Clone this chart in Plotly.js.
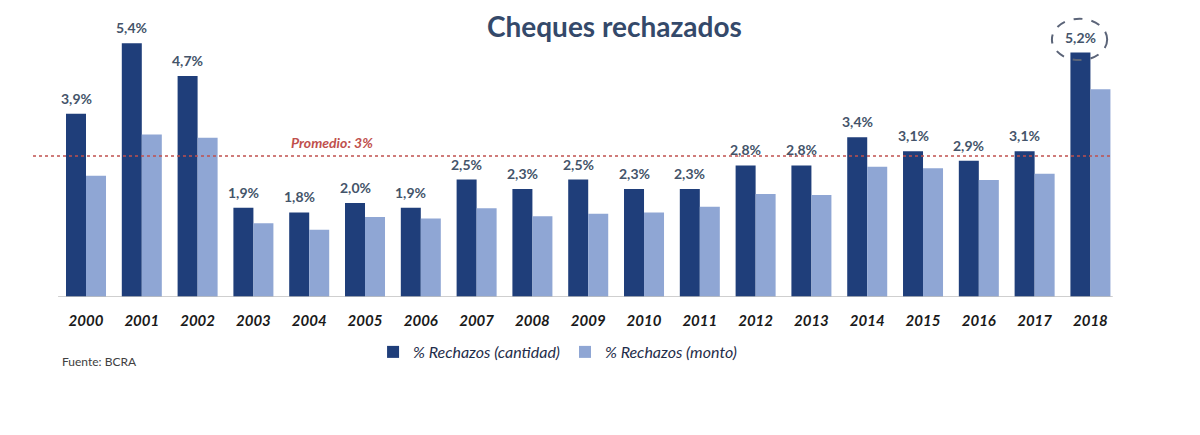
<!DOCTYPE html>
<html>
<head>
<meta charset="utf-8">
<script src="https://cdn.plot.ly/plotly-3.0.1.min.js"></script>
<style>html,body{margin:0;padding:0;background:#fff;}#chart{width:1200px;height:435px;}</style>
</head>
<body>
<div id="chart"></div>
<script>
const years = ["2000","2001","2002","2003","2004","2005","2006","2007","2008","2009","2010","2011","2012","2013","2014","2015","2016","2017","2018"];
const cantidad = [3.9,5.4,4.7,1.9,1.8,2.0,1.9,2.5,2.3,2.5,2.3,2.3,2.8,2.8,3.4,3.1,2.9,3.1,5.2];
const monto = [2.58,3.46,3.39,1.57,1.43,1.70,1.67,1.89,1.72,1.77,1.80,1.92,2.19,2.17,2.77,2.74,2.49,2.62,4.42];
const promedio = 3;
const seriesNames = ["% Rechazos (cantidad)", "% Rechazos (monto)"];
const titleText = "Cheques rechazados";
const promedioLabel = "Promedio: 3%";
const fuente = "Fuente: BCRA";

const fmt = v => v.toFixed(1).replace('.', ',') + '%';
const FONT = 'Lato, "Open Sans", sans-serif';
const labelColor = '#44546a';

const traces = [
  {type:'bar', name:seriesNames[0], x:years, y:cantidad, marker:{color:'#1f3e7a'}, hoverinfo:'skip'},
  {type:'bar', name:seriesNames[1], x:years, y:monto, marker:{color:'#8fa6d4'}, hoverinfo:'skip'}
];

const annotations = cantidad.map((v, i) => ({
  x: i, y: v, xref:'x', yref:'y', text: fmt(v),
  showarrow:false, xshift:-10, yshift:5, yanchor:'bottom', xanchor:'center',
  font:{family:FONT, size:14, color:labelColor, weight:'bold'}
}));
annotations.push({
  x: 4.4, y: promedio, xref:'x', yref:'y', text: promedioLabel, showarrow:false,
  yanchor:'bottom', yshift:3, font:{family:FONT, size:14, color:'#c0504d', weight:'bold', style:'italic'}
});
annotations.push({
  x: 0.0275, y: -0.23, xref:'paper', yref:'paper', text: fuente, showarrow:false,
  xanchor:'left', yanchor:'middle', font:{family:FONT, size:12, color:'#404040'}
});

const last = years.length - 1;
const shapes = [
  {type:'line', xref:'x', yref:'y', x0:-0.5, x1:last + 0.4, y0:0, y1:0, line:{color:'#bfbfbf', width:1.5}, layer:'above'},
  {type:'line', xref:'x', yref:'y', x0:-0.95, x1:last + 0.4, y0:promedio, y1:promedio, line:{color:'#c0504d', width:1.6, dash:'dot'}, layer:'above'},
  {type:'circle', xref:'x', yref:'y', x0:last - 0.69, x1:last + 0.3, y0:cantidad[last] - 0.16, y1:cantidad[last] + 0.72, line:{color:'#5b6478', width:2, dash:'dash'}, layer:'above'}
];

const layout = {
  width:1200, height:435,
  margin:{l:30, r:80, t:15, b:138},
  paper_bgcolor:'#ffffff', plot_bgcolor:'#ffffff',
  title:{text:titleText, x:0.512, xref:'container', xanchor:'center', y:0.938, yref:'container', yanchor:'middle',
         font:{family:FONT, size:28, color:'#34496a', weight:'bold'}},
  barmode:'group', bargap:0.283, bargroupgap:0,
  xaxis:{type:'category', range:[-1.0036, 18.53], showgrid:false, zeroline:false, showline:false,
         ticks:'outside', ticklen:10, tickcolor:'rgba(0,0,0,0)',
         tickfont:{family:FONT, size:15, color:'#1a1a1a', weight:'bold', style:'italic'}},
  yaxis:{range:[0, 6.0], visible:false, showgrid:false, zeroline:false},
  legend:{orientation:'h', x:0.484, xanchor:'center', y:-0.195, yanchor:'middle',
          font:{family:FONT, size:16, color:'#1f2d4a', style:'italic'}, itemwidth:30, traceorder:'normal'},
  showlegend:true,
  annotations: annotations,
  shapes: shapes
};

Plotly.newPlot('chart', traces, layout, {displayModeBar:false, staticPlot:true});
</script>
</body>
</html>
